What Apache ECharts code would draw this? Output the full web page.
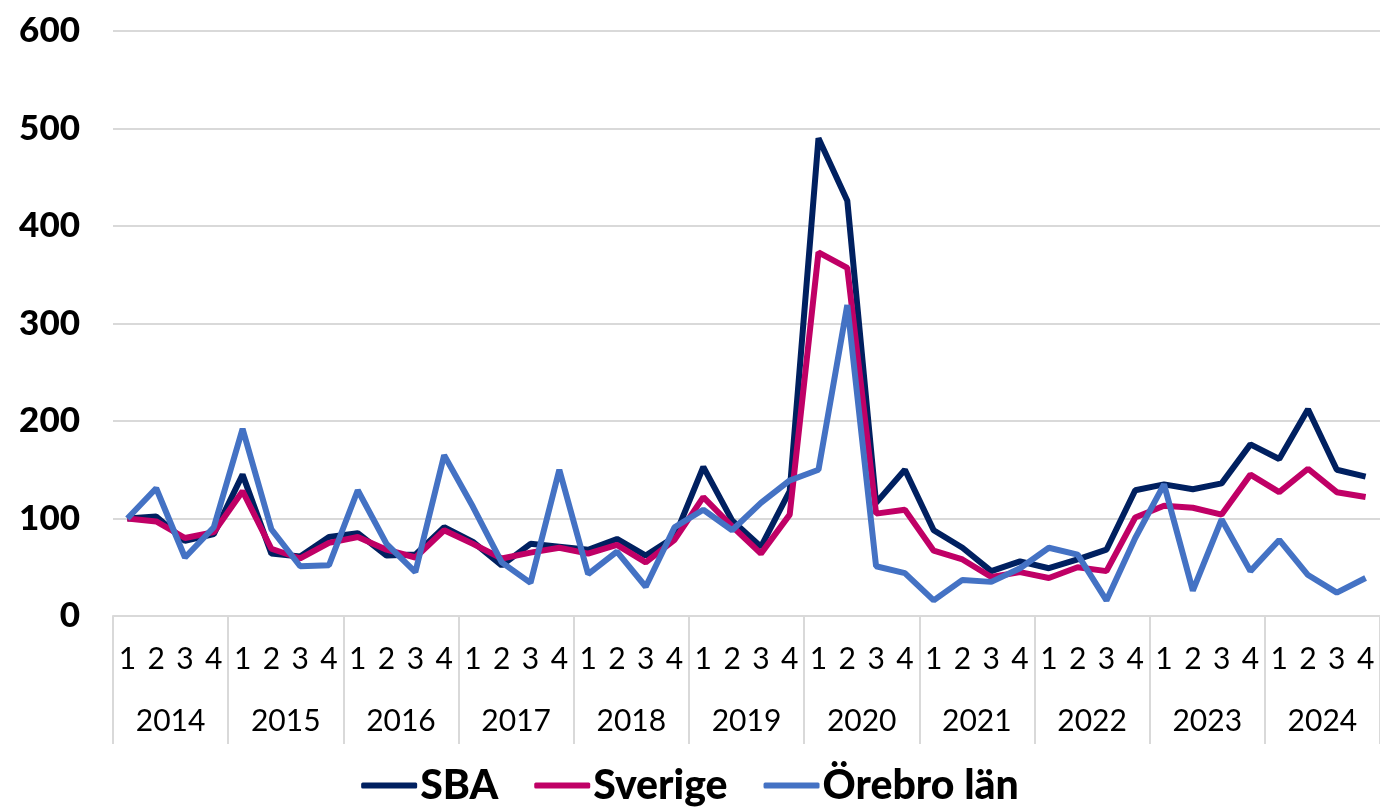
<!DOCTYPE html>
<html>
<head>
    <meta charset="utf-8">
    <title>SBA, Sverige, Örebro län</title>
    <script src="https://cdn.jsdelivr.net/npm/echarts@6/dist/echarts.min.js"></script>
    <style>
        html, body { margin: 0; padding: 0; background: #fff; }
        #chart { width: 1380px; height: 811px; }
    </style>
</head>
<body>
<div id="chart"></div>
<script type="text/javascript">
    // år och kvartal
    var years = ['2014', '2015', '2016', '2017', '2018', '2019', '2020', '2021', '2022', '2023', '2024'];
    var quarters = ['1', '2', '3', '4'];

    // index
    var sba = [100, 102, 77, 84, 145, 64, 61, 81, 85, 62, 63, 91, 76, 52, 74, 71, 68, 79, 62, 81, 153, 98, 71, 128,
        490, 426, 116, 150, 88, 70, 46, 56, 49, 58, 68, 129, 135, 130, 136, 176, 161, 212, 150, 143];
    var sverige = [100, 97, 80, 86, 128, 69, 59, 75, 81, 68, 60, 88, 74, 59, 65, 70, 64, 73, 55, 78, 122, 92, 64, 104,
        373, 357, 105, 109, 67, 58, 40, 45, 39, 50, 46, 101, 113, 111, 104, 145, 127, 151, 127, 122];
    var orebro = [100, 131, 60, 91, 192, 89, 51, 52, 129, 74, 45, 165, 112, 55, 34, 150, 43, 66, 30, 91, 109, 88, 116, 139,
        150, 319, 51, 44, 16, 37, 35, 49, 70, 63, 16, 80, 135, 26, 99, 46, 78, 42, 24, 39];

    var quarterLabels = [];
    years.forEach(function () {
        quarters.forEach(function (q) { quarterLabels.push(q); });
    });

    var grey = '#d9d9d9';
    var myChart = echarts.init(document.getElementById('chart'));
    myChart.setOption({
        animation: false,
        grid: { left: 113, right: -4, top: 31, bottom: 195 },
        legend: {
            bottom: 0,
            left: 'center',
            icon: 'roundRect',
            itemWidth: 56,
            itemHeight: 6,
            itemGap: 36,
            textStyle: { fontFamily: 'Lato', fontWeight: 900, fontSize: 41, color: '#000', padding: [0, 0, 0, -2] },
            data: ['SBA', 'Sverige', 'Örebro län']
        },
        xAxis: [{
            type: 'category',
            data: quarterLabels,
            boundaryGap: true,
            axisLine: { show: true, lineStyle: { color: grey, width: 2 } },
            axisTick: { show: false },
            axisLabel: { interval: 0, margin: 28, fontFamily: 'Lato', fontSize: 30, color: '#000' }
        }, {
            type: 'category',
            data: years,
            position: 'bottom',
            boundaryGap: true,
            axisLine: { show: false },
            axisTick: { show: true, length: 128, lineStyle: { color: grey, width: 2 } },
            axisLabel: { interval: 0, margin: 90, fontFamily: 'Lato', fontSize: 30, color: '#000' }
        }],
        yAxis: {
            type: 'value',
            min: 0,
            max: 600,
            interval: 100,
            axisLine: { show: false },
            axisTick: { show: false },
            splitLine: { lineStyle: { color: grey, width: 2 } },
            axisLabel: { margin: 33, fontFamily: 'Lato', fontWeight: 900, fontSize: 35, color: '#000' }
        },
        series: [{
            name: 'SBA',
            type: 'line',
            data: sba,
            symbol: 'none',
            color: '#002060',
            lineStyle: { width: 6, color: '#002060' }
        }, {
            name: 'Sverige',
            type: 'line',
            data: sverige,
            symbol: 'none',
            color: '#c00066',
            lineStyle: { width: 6, color: '#c00066' }
        }, {
            name: 'Örebro län',
            type: 'line',
            data: orebro,
            symbol: 'none',
            color: '#4472c4',
            lineStyle: { width: 6, color: '#4472c4' }
        }]
    });
</script>
</body>
</html>
